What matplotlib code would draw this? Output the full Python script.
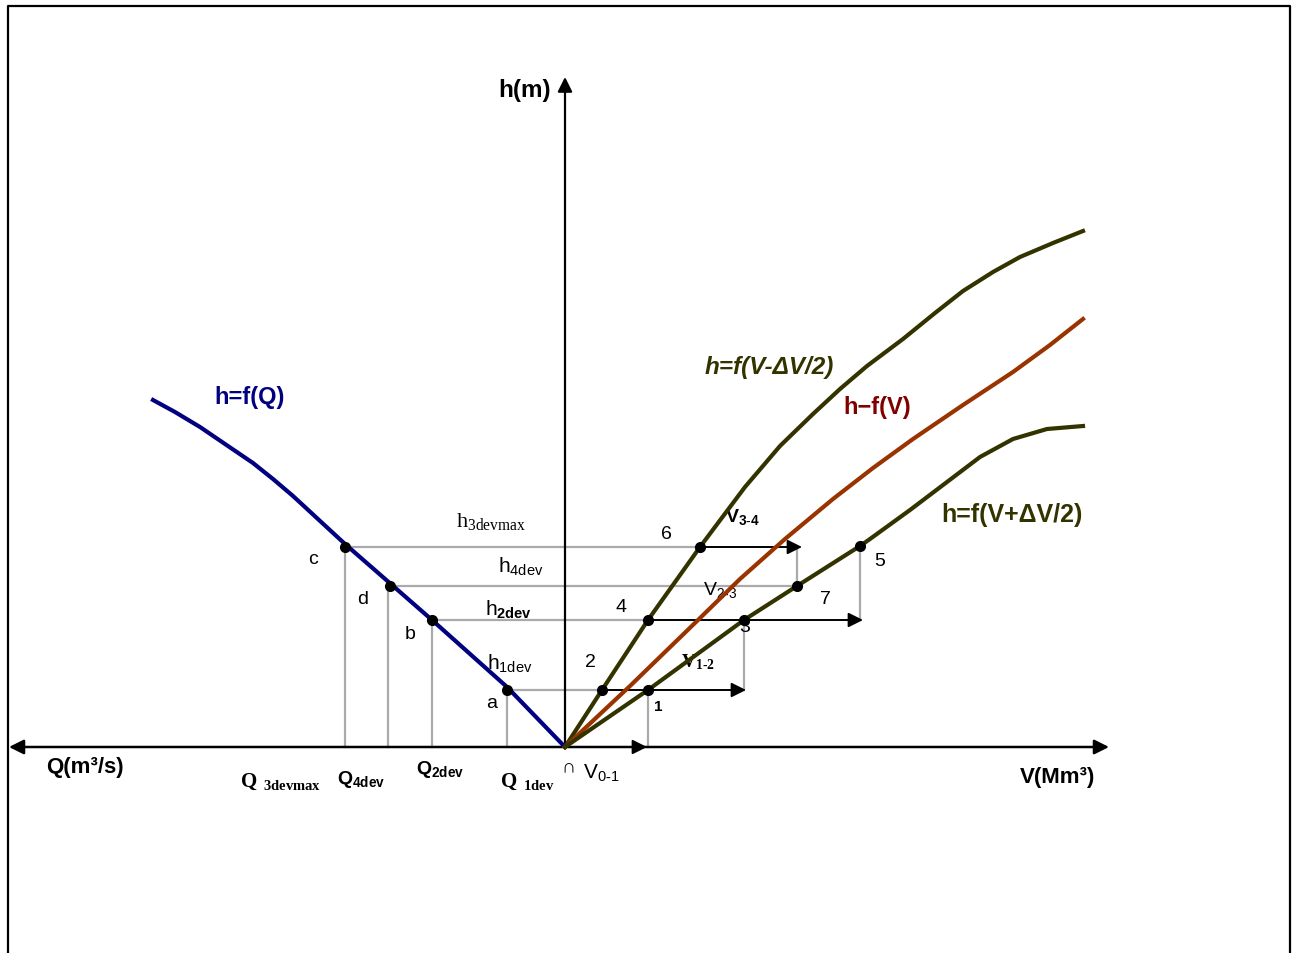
import numpy as np
import matplotlib
matplotlib.use("Agg")
import matplotlib.pyplot as plt

plt.rcParams['font.family'] = ['Liberation Sans', 'DejaVu Sans']
plt.rcParams['mathtext.fontset'] = 'custom'
plt.rcParams['mathtext.rm'] = 'Liberation Serif'
plt.rcParams['mathtext.bf'] = 'Liberation Serif:bold'
plt.rcParams['mathtext.sf'] = 'Liberation Sans'
plt.rcParams['mathtext.tt'] = 'Liberation Sans:bold'

# diagram units, origin where the axes cross
q_curve_x = [-412, -390, -365, -340, -312, -292, -272, -246, -220, -173, -133, -58, 0]
q_curve_h = [347, 335, 320, 303, 284, 268, 251, 227, 203, 162, 127, 60, 0]

v_minus_x = [0, 37, 83, 135, 180, 215, 248, 275, 302, 338, 370, 398, 428, 455, 488, 518]
v_minus_h = [0, 57, 127, 200, 260, 301, 333, 358, 381, 408, 434, 456, 475, 490, 504, 516]

v_mid_x = [0, 65, 132, 175, 220, 268, 308, 348, 398, 448, 485, 518]
v_mid_h = [0, 61, 126, 168, 208, 248, 279, 308, 342, 375, 402, 428]

v_plus_x = [0, 83, 179, 232, 295, 305, 345, 382, 415, 448, 482, 518]
v_plus_h = [0, 57, 127, 161, 201, 208, 237, 265, 290, 308, 318, 321]

# deviation levels on the Q side
dev_names = ['c', 'd', 'b', 'a']
dev_q = [-220, -175, -133, -58]
dev_h = [200, 161, 127, 57]

# numbered points on the V curves
pt_names = ['1', '2', '3', '4', '5', '6', '7']
pt_v = [83, 37, 179, 83, 295, 135, 232]
pt_h = [57, 57, 127, 127, 201, 200, 161]

# gray guide segments (x0, y0, x1, y1)
guides = [
    (-220, 200, 135, 200), (-175, 161, 232, 161), (-133, 127, 83, 127), (-58, 57, 37, 57),
    (232, 200, 232, 161), (295, 127, 295, 201), (179, 127, 179, 57), (83, 57, 83, 0),
    (-220, 200, -220, 0), (-177, 161, -177, 0), (-133, 127, -133, 0), (-58, 57, -58, 0),
]
# black volume arrows (start, end)
vol_arrows = [((135, 200), (237, 200)), ((83, 127), (298, 127)),
              ((37, 57), (181, 57)), ((0, 0), (82, 0))]

fig = plt.figure(figsize=(12.98, 9.54), dpi=100)
ax = fig.add_axes([0, 0, 1, 1])
ax.set_xlim(-565, 733)
ax.set_ylim(-206, 748)
ax.axis('off')

# frame, open at the bottom
ax.plot([-557, -557, 725, 725], [-210, 741, 741, -210], color='k', lw=1.6, clip_on=False)

gray = '#aaaaaa'
for x0, y0, x1, y1 in guides:
    ax.plot([x0, x1], [y0, y1], color=gray, lw=1.6, zorder=1)

# axes
ax.annotate('', xy=(0, 670), xytext=(0, 0),
            arrowprops=dict(arrowstyle='-|>', color='k', lw=1.6, mutation_scale=22, shrinkA=0, shrinkB=0))
ax.annotate('', xy=(-556, 0), xytext=(544, 0),
            arrowprops=dict(arrowstyle='<|-|>', color='k', lw=1.8, mutation_scale=22, shrinkA=0, shrinkB=0))

for (s, e) in vol_arrows:
    ax.annotate('', xy=e, xytext=s,
                arrowprops=dict(arrowstyle='-|>', color='k', lw=1.4, mutation_scale=22, shrinkA=0, shrinkB=0),
                zorder=3)

ax.plot(q_curve_x, q_curve_h, color='#000080', lw=3, zorder=4, solid_joinstyle='round')
ax.plot(v_minus_x, v_minus_h, color='#333300', lw=3, zorder=4, solid_joinstyle='round')
ax.plot(v_mid_x, v_mid_h, color='#993300', lw=3, zorder=4, solid_joinstyle='round')
ax.plot(v_plus_x, v_plus_h, color='#333300', lw=3, zorder=4, solid_joinstyle='round')

ax.plot(dev_q, dev_h, 'o', color='k', ms=7, zorder=5)
ax.plot(pt_v, pt_h, 'o', color='k', ms=7, zorder=5)

# curve titles
ax.text(-315, 350, 'h=f(Q)', color='#000080', fontsize=17, fontweight='bold', ha='center', va='center')
ax.text(204, 380, 'h=f(V-ΔV/2)', color='#333300', fontsize=17.5, fontweight='bold', style='italic', ha='center', va='center')
ax.text(312, 340, 'h−f(V)', color='#800000', fontsize=17, fontweight='bold', ha='center', va='center')
ax.text(447, 233, 'h=f(V+ΔV/2)', color='#333300', fontsize=18, fontweight='bold', ha='center', va='center')

ax.text(-40, 658, 'h(m)', fontsize=17.5, fontweight='bold', ha='center', va='center')
ax.text(-480, -20, 'Q(m³/s)', fontsize=16, fontweight='bold', ha='center', va='center')
ax.text(493, -30, 'V(Mm³)', fontsize=16, fontweight='bold', ha='center', va='center')

# Q-axis labels
ax.text(-284, -34, r'$\mathbf{Q}\ \mathbf{{}_{3devmax}}$', fontsize=15, ha='center', va='center')
ax.text(-204, -32, r'$\mathtt{Q_{4dev}}$', fontsize=14, ha='center', va='center')
ax.text(-125, -22, r'$\mathtt{Q_{2dev}}$', fontsize=14, ha='center', va='center')
ax.text(-38, -34, r'$\mathbf{Q}\ \mathbf{{}_{1dev}}$', fontsize=15, ha='center', va='center')
ax.text(3, -21, '∩', fontsize=14, ha='center', va='center')
ax.text(36, -25, r'$\mathsf{V_{0\text{-}1}}$', fontsize=15, ha='center', va='center')

# h levels
ax.text(-74, 226, r'$\mathrm{h_{3devmax}}$', fontsize=16, ha='center', va='center')
ax.text(-44, 181, r'$\mathsf{h_{4dev}}$', fontsize=15, ha='center', va='center')
ax.text(-56, 138, r'$\mathsf{h}\mathtt{{}_{2dev}}$', fontsize=15, ha='center', va='center')
ax.text(-55, 84, r'$\mathsf{h_{1dev}}$', fontsize=15, ha='center', va='center')

letter_pos = {'c': (-252, 188), 'd': (-202, 148), 'b': (-155, 113), 'a': (-73, 44)}
for name in dev_names:
    ax.text(*letter_pos[name], name, fontsize=14, ha='center', va='center')

num_pos = {'1': (93, 41), '2': (25, 85), '3': (180, 120), '4': (56, 140),
           '5': (315, 186), '6': (101, 213), '7': (260, 148)}
for name in pt_names:
    ax.text(*num_pos[name], name, fontsize=11 if name == '1' else 14,
            fontweight='bold' if name == '1' else 'normal', ha='center', va='center')

ax.text(177, 231, r'$\mathtt{V_{3\text{-}4}}$', fontsize=14, ha='center', va='center')
ax.text(155, 158, r'$\mathsf{V_{2\text{-}3}}$', fontsize=14, ha='center', va='center')
ax.text(133, 86, r'$\mathbf{V_{1\text{-}2}}$', fontsize=14, ha='center', va='center')

fig.savefig('out.png', dpi=100, facecolor='white')
